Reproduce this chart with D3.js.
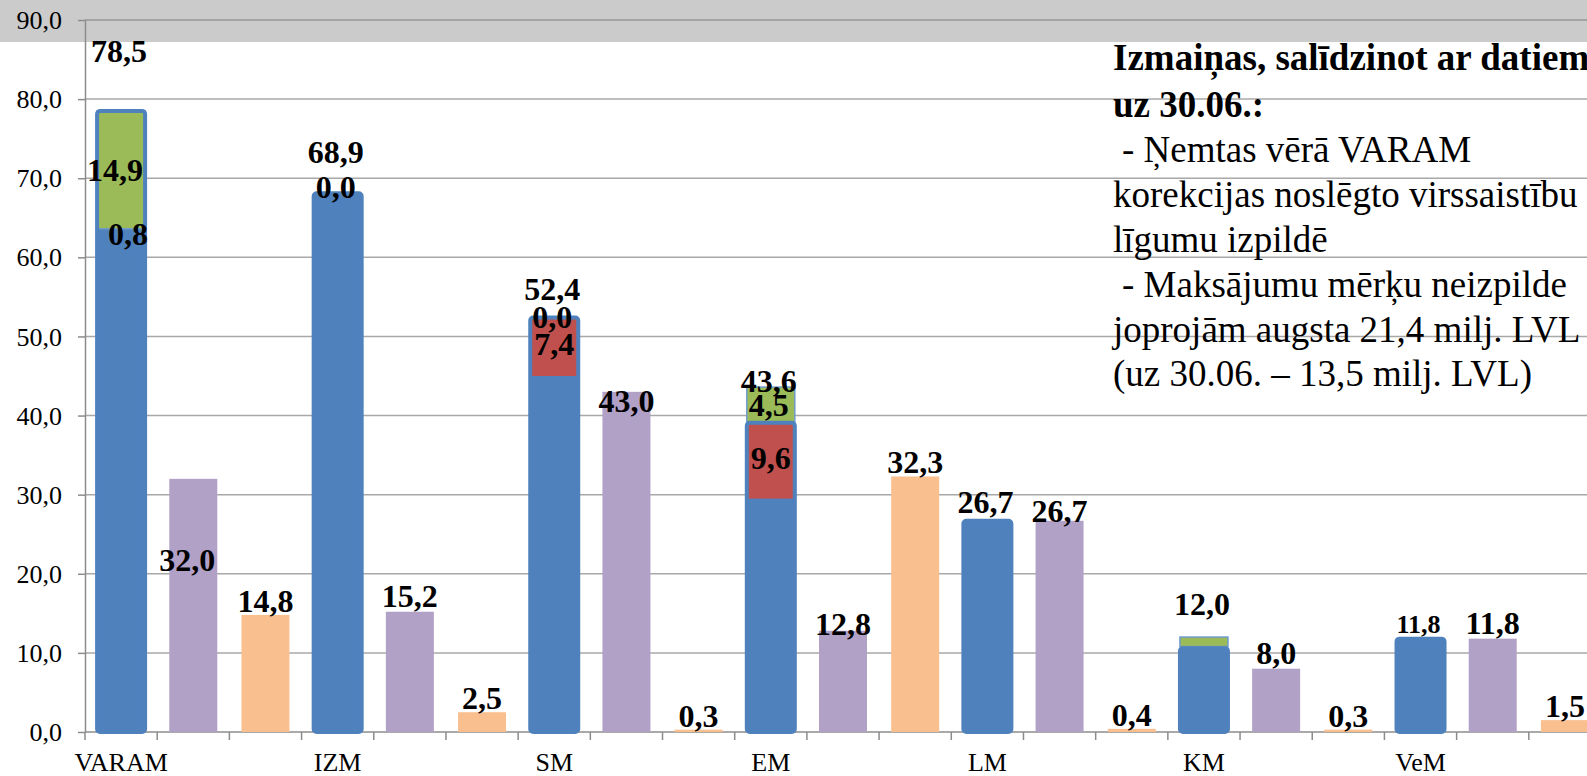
<!DOCTYPE html>
<html>
<head>
<meta charset="utf-8">
<script src="https://cdn.jsdelivr.net/npm/d3@7"></script>
<style>
  html, body { margin: 0; padding: 0; background: #fff; overflow: hidden; }
  svg { display: block; font-family: "Liberation Serif", "Times New Roman", serif; }
</style>
</head>
<body>
<svg id="chart"></svg>
<script>
// data (milj. LVL)
var ministries = ["VARAM", "IZM", "SM", "EM", "LM", "KM", "VeM"];
var actual   = [78.5, 68.1, 52.4, 39.1, 26.7, 10.6, 11.8];   // blue columns
var decrease = [0.8, 0.0, 7.4, 9.6, 0.0, 0.0, 0.0];          // red part
var increase = [14.9, 0.0, 0.0, 4.5, 0.0, 1.2, 0.0];         // green part
var totals   = [78.5, 68.9, 52.4, 43.6, 26.7, 12.0, 11.8];   // label over blue column
var purple   = [32.0, 15.2, 43.0, 12.8, 26.7, 8.0, 11.8];
var orange   = [14.8, 2.5, 0.3, 32.3, 0.4, 0.3, 1.5];
var yTicks   = [0, 10, 20, 30, 40, 50, 60, 70, 80, 90];
var noteLines = [
  "Izmaiņas, salīdzinot ar datiem",
  "uz 30.06.:",
  "- Ņemtas vērā VARAM",
  "korekcijas noslēgto virssaistību",
  "līgumu izpildē",
  "- Maksājumu mērķu neizpilde",
  "joprojām augsta 21,4 milj. LVL",
  "(uz 30.06. – 13,5 milj. LVL)"
];

// layout
var W = 1587, H = 776;
var plotLeft = 85, plotRight = 1601, plotTop = 20, plotBottom = 732;
var col = { blue: "#4F81BD", red: "#C0504D", green: "#9BBB59", purple: "#B2A1C7", orange: "#F9BF8F" };
var totalDy = { VARAM: -49, IZM: -24, SM: -17, EM: 5, LM: -8, KM: -22, VeM: -6 };
var purpleDy = { VARAM: 92, SM: 20, EM: 4, LM: 1 };
var incShown = ["VARAM", "IZM", "SM", "EM"];
var decShown = ["VARAM", "SM", "EM"];

var fmt = function(v) { return d3.format(".1f")(v).replace(".", ","); };

var svg = d3.select("#chart").attr("width", W).attr("height", H);

var slots = [];
ministries.forEach(function(m) { slots.push(m + "-b", m + "-p", m + "-o"); });

var x = d3.scaleBand().domain(slots).range([plotLeft, plotRight]).paddingInner(0.335).paddingOuter(0.1675);
var y = d3.scaleLinear().domain([0, 90]).range([plotBottom, plotTop]);
var bw = x.bandwidth();
var step = x.step();

// grey strip at the top
svg.append("rect").attr("x", 0).attr("y", 0).attr("width", W).attr("height", 42).attr("fill", "#CBCBCB");

// gridlines
svg.append("g").selectAll("line")
  .data(yTicks.filter(function(t) { return t > 0; }))
  .enter().append("line")
  .attr("x1", plotLeft).attr("x2", W)
  .attr("y1", function(d) { return y(d); }).attr("y2", function(d) { return y(d); })
  .attr("stroke", function(d) { return d === 90 ? "#969696" : "#A8A8A8"; })
  .attr("stroke-width", 1.5);

// y axis
var yAxis = svg.append("g")
  .attr("transform", "translate(" + plotLeft + ",0)")
  .call(d3.axisLeft(y).tickValues(yTicks).tickFormat(fmt).tickSizeInner(7).tickSizeOuter(0).tickPadding(16));
yAxis.selectAll("path, line").attr("stroke", "#8C8C8C").attr("stroke-width", 1.5);
yAxis.selectAll("text")
  .attr("font-family", "Liberation Serif").attr("font-size", 26).attr("fill", "#000").attr("dy", "0.33em");

// x axis
svg.append("line").attr("x1", plotLeft).attr("x2", W).attr("y1", plotBottom).attr("y2", plotBottom)
  .attr("stroke", "#8C8C8C").attr("stroke-width", 1.5);
svg.append("g").selectAll("line")
  .data(d3.range(slots.length + 1))
  .enter().append("line")
  .attr("x1", function(i) { return plotLeft + i * step; }).attr("x2", function(i) { return plotLeft + i * step; })
  .attr("y1", plotBottom).attr("y2", plotBottom + 8)
  .attr("stroke", "#8C8C8C").attr("stroke-width", 1.5);
svg.append("g").selectAll("text")
  .data(ministries)
  .enter().append("text")
  .attr("x", function(m) { return x(m + "-b") + bw / 2; })
  .attr("y", 771)
  .attr("text-anchor", "middle").attr("font-size", 26).attr("fill", "#000")
  .text(function(m) { return m; });

var rows = ministries.map(function(m, i) {
  return { m: m, actual: actual[i], dec: decrease[i], inc: increase[i], total: totals[i], purple: purple[i], orange: orange[i] };
});

// blue columns (fill)
svg.append("g").selectAll("rect").data(rows).enter().append("rect")
  .attr("x", function(d) { return x(d.m + "-b"); })
  .attr("y", function(d) { return y(d.actual); })
  .attr("width", bw)
  .attr("height", function(d) { return y(0) - y(d.actual); })
  .attr("fill", col.blue);

// red part
svg.append("g").selectAll("rect").data(rows.filter(function(d) { return d.dec > 0; })).enter().append("rect")
  .attr("x", function(d) { return x(d.m + "-b"); })
  .attr("y", function(d) { return y(d.actual); })
  .attr("width", bw)
  .attr("height", function(d) { return y(d.actual - d.dec) - y(d.actual); })
  .attr("fill", col.red);

// green part
svg.append("g").selectAll("rect").data(rows.filter(function(d) { return d.inc > 0; })).enter().append("rect")
  .attr("x", function(d) { return x(d.m + "-b"); })
  .attr("y", function(d) { return y(d.total); })
  .attr("width", bw)
  .attr("height", function(d) { return y(d.total - d.inc) - y(d.total); })
  .attr("fill", col.green)
  .attr("stroke", "#6F9ACB").attr("stroke-width", 1.5);

// blue column outline
svg.append("g").selectAll("rect").data(rows).enter().append("rect")
  .attr("x", function(d) { return x(d.m + "-b"); })
  .attr("y", function(d) { return y(d.actual); })
  .attr("width", bw)
  .attr("height", function(d) { return y(0) - y(d.actual); })
  .attr("rx", 3)
  .attr("fill", "none")
  .attr("stroke", col.blue).attr("stroke-width", 4);

// purple and orange columns
[["p", "purple"], ["o", "orange"]].forEach(function(s) {
  svg.append("g").selectAll("rect").data(rows).enter().append("rect")
    .attr("x", function(d) { return x(d.m + "-" + s[0]); })
    .attr("y", function(d) { return y(d[s[1]]); })
    .attr("width", bw)
    .attr("height", function(d) { return y(0) - y(d[s[1]]); })
    .attr("fill", col[s[1]]);
});

// value labels
var labels = svg.append("g").attr("font-weight", "bold").attr("font-size", 32)
  .attr("text-anchor", "middle").attr("fill", "#000");

labels.selectAll(".tot").data(rows).enter().append("text")
  .attr("class", "tot")
  .attr("x", function(d) { return x(d.m + "-b") + bw / 2 - 2; })
  .attr("y", function(d) { return y(d.total) + totalDy[d.m]; })
  .attr("font-size", function(d) { return d.m === "VeM" ? 26 : 32; })
  .text(function(d) { return fmt(d.total); });

labels.selectAll(".inc").data(rows.filter(function(d) { return incShown.indexOf(d.m) >= 0; })).enter().append("text")
  .attr("class", "inc")
  .attr("x", function(d) { return x(d.m + "-b") + bw / 2 + (d.m === "VARAM" ? -6 : -2); })
  .attr("y", function(d) { return (y(d.total) + y(d.total - d.inc)) / 2 + 11; })
  .text(function(d) { return fmt(d.inc); });

labels.selectAll(".dec").data(rows.filter(function(d) { return decShown.indexOf(d.m) >= 0; })).enter().append("text")
  .attr("class", "dec")
  .attr("x", function(d) { return x(d.m + "-b") + bw / 2 + (d.m === "VARAM" ? 7 : 0); })
  .attr("y", function(d) {
    if (d.m === "VARAM") return y(d.total - d.inc) + 16;
    return (y(d.actual) + y(d.actual - d.dec)) / 2 + 8;
  })
  .text(function(d) { return fmt(d.dec); });

labels.selectAll(".pur").data(rows).enter().append("text")
  .attr("class", "pur")
  .attr("x", function(d) { return x(d.m + "-p") + bw / 2 + (d.m === "VARAM" ? -6 : 0); })
  .attr("y", function(d) { return y(d.purple) + (purpleDy[d.m] !== undefined ? purpleDy[d.m] : -5); })
  .text(function(d) { return fmt(d.purple); });

labels.selectAll(".ora").data(rows).enter().append("text")
  .attr("class", "ora")
  .attr("x", function(d) { return x(d.m + "-o") + bw / 2; })
  .attr("y", function(d) { return y(d.orange) - 3; })
  .text(function(d) { return fmt(d.orange); });

// note text
var noteY = [70, 117, 162, 207, 252, 297, 342, 386];
svg.append("g").selectAll("text").data(noteLines).enter().append("text")
  .attr("x", 1113)
  .attr("dx", function(d) { return d.charAt(0) === "-" ? 9 : 0; })
  .attr("y", function(d, i) { return noteY[i]; })
  .attr("font-size", 37)
  .attr("font-weight", function(d, i) { return i < 2 ? "bold" : "normal"; })
  .attr("fill", "#000")
  .text(function(d) { return d; });
</script>
</body>
</html>
